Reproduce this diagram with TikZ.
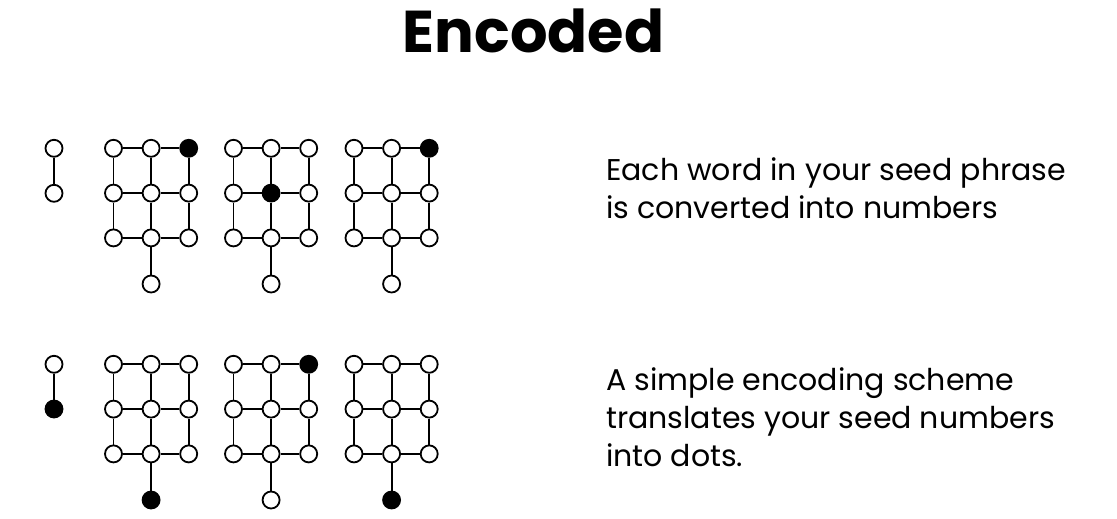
\documentclass[tikz,border=0pt]{standalone}
\usepackage{fontspec}
\setmainfont{Poppins}
\usepackage{tikz}

\begin{document}
\begin{tikzpicture}[x=1pt,y=-1pt,
  dot/.style={circle,draw,line width=1.8pt,fill=white,minimum size=17pt,inner sep=0pt},
  full/.style={dot,fill=black},
  wire/.style={line width=1.8pt},
  blurb/.style={font=\fontsize{30}{37.7}\selectfont,anchor=base west,align=left,inner sep=0pt}]
\useasboundingbox (0,0) rectangle (1117,519);
\node[font=\fontsize{59}{59}\selectfont\bfseries,anchor=base] (title) at (533.5,53) {Encoded};

% the two-dot markers
\node[dot] (p1a) at (54,148.3) {};
\node[dot] (p1b) at (54,193.3) {};
\node[dot] (p2a) at (54,364.3) {};
\node[full] (p2b) at (54,409) {};
\draw[wire] (p1a) -- (p1b);
\draw[wire] (p2a) -- (p2b);

% grids: name/left x/top y/filled dot (row col, 42 = tail)
\foreach \g/\x/\y/\f in {a/113.5/148.3/13, b/233.5/148.3/22, c/354/148.3/13,
                         d/113.5/364.3/42, e/233.5/364.3/13, f/354/364.3/42} {
  \foreach \r in {1,2,3} {
    \foreach \c in {1,2,3} {
      \ifnum\r\c=\f\relax
        \node[full] (\g\r\c) at ({\x+37.6*(\c-1)},{\y+44.8*(\r-1)}) {};
      \else
        \node[dot] (\g\r\c) at ({\x+37.6*(\c-1)},{\y+44.8*(\r-1)}) {};
      \fi
    }
  }
  \ifnum42=\f\relax
    \node[full] (\g t) at ({\x+37.6},{\y+135.7}) {};
  \else
    \node[dot] (\g t) at ({\x+37.6},{\y+135.7}) {};
  \fi
  \foreach \r in {1,2,3} {
    \draw[wire] (\g\r1) -- (\g\r2) -- (\g\r3);
    \draw[wire] (\g1\r) -- (\g2\r) -- (\g3\r);
  }
  \draw[wire] (\g32) -- (\g t);
}

% base anchor sits on the last line
\node[blurb] (txt1) at (606,218)
  {Each word in your seed phrase\\is converted into numbers};
\node[blurb] (txt2) at (606,466)
  {A simple encoding scheme\\translates your seed numbers\\into dots.};
\end{tikzpicture}
\end{document}
